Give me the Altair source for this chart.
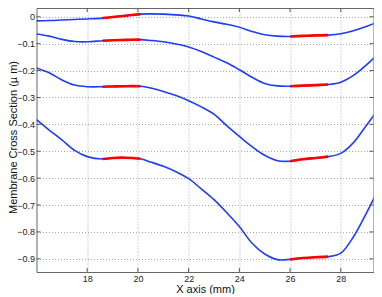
import altair as alt
import pandas as pd

# shared x positions (mm)
x_pts = [16.0, 16.5, 17.0, 17.5, 18.0, 18.6, 19.0, 19.5, 20.1, 20.5, 21.0, 21.5, 22.0, 22.5,
         23.0, 23.5, 24.0, 24.5, 25.0, 25.5, 26.0, 26.5, 27.0, 27.5, 28.0, 28.5, 29.0, 29.5]

curve1 = [-0.015, -0.014, -0.012, -0.010, -0.008, -0.005, -0.001, 0.004, 0.010, 0.011, 0.010, 0.007, 0.003, -0.008,
          -0.019, -0.028, -0.039, -0.055, -0.067, -0.072, -0.073, -0.071, -0.069, -0.068, -0.063, -0.052, -0.036, -0.018]
curve2 = [-0.064, -0.072, -0.084, -0.092, -0.093, -0.089, -0.087, -0.086, -0.085, -0.088, -0.093, -0.101, -0.112, -0.129,
          -0.150, -0.171, -0.197, -0.225, -0.248, -0.257, -0.258, -0.256, -0.254, -0.252, -0.243, -0.218, -0.180, -0.135]
curve3 = [-0.190, -0.208, -0.235, -0.254, -0.260, -0.260, -0.259, -0.258, -0.258, -0.265, -0.278, -0.293, -0.312, -0.335,
          -0.362, -0.405, -0.445, -0.483, -0.515, -0.535, -0.537, -0.530, -0.525, -0.520, -0.508, -0.468, -0.405, -0.342]
curve4 = [-0.382, -0.421, -0.458, -0.497, -0.520, -0.529, -0.525, -0.524, -0.528, -0.540, -0.556, -0.576, -0.602, -0.640,
          -0.680, -0.728, -0.780, -0.842, -0.882, -0.903, -0.902, -0.897, -0.894, -0.892, -0.879, -0.818, -0.732, -0.638]

curves = {"c1": curve1, "c2": curve2, "c3": curve3, "c4": curve4}
red_ranges = [(18.6, 20.1), (26.0, 27.5)]

x_ticks = [18, 20, 22, 24, 26, 28]
y_ticks = [0, -0.1, -0.2, -0.3, -0.4, -0.5, -0.6, -0.7, -0.8, -0.9]

rows = []
for name, ys in curves.items():
    for xv, yv in zip(x_pts, ys):
        rows.append({"x": xv, "y": yv, "curve": name})
df = pd.DataFrame(rows)

red_rows = []
for i, (a, b) in enumerate(red_ranges):
    sub = df[(df.x >= a - 1e-9) & (df.x <= b + 1e-9)].copy()
    sub["seg"] = sub["curve"] + "_" + str(i)
    red_rows.append(sub)
red_df = pd.concat(red_rows)

W, H = 337, 264
xdom = [16, 29.29]
ydom = [-0.949, 0.0327]

xs = alt.Scale(domain=xdom, nice=False, zero=False)
ys_ = alt.Scale(domain=ydom, nice=False, zero=False)

xaxis = alt.Axis(values=x_ticks, title="X axis (mm)", format="~g",
                 titleY=20, titleBaseline="alphabetic")
yaxis = alt.Axis(values=y_ticks, title="Membrane Cross Section (µ m)", format="~g",
                 labelOverlap=False, titleX=-20.5, titleY=129, titleBaseline="alphabetic")

X = alt.X("x:Q", scale=xs, axis=xaxis)
Y = alt.Y("y:Q", scale=ys_, axis=yaxis)

blue = alt.Chart(df).mark_line(color="#1f3cff", strokeWidth=1.6, interpolate="catmull-rom", clip=True).encode(
    x=X, y=Y, detail="curve:N",
)

red = alt.Chart(red_df).mark_line(color="#ff0000", strokeWidth=2.6, interpolate="catmull-rom", clip=True).encode(
    x=X, y=Y, detail="seg:N",
)

xt = pd.DataFrame({"x": x_ticks})
yt = pd.DataFrame({"y": y_ticks})
tick_col = "#555555"
xb = alt.Chart(xt).mark_rule(color=tick_col, strokeWidth=1).encode(
    x=X, y=alt.value(H - 4), y2=alt.value(H))
xtop = alt.Chart(xt).mark_rule(color=tick_col, strokeWidth=1).encode(
    x=X, y=alt.value(0), y2=alt.value(4))
yl = alt.Chart(yt).mark_rule(color=tick_col, strokeWidth=1).encode(
    y=Y, x=alt.value(0), x2=alt.value(4))
yr = alt.Chart(yt).mark_rule(color=tick_col, strokeWidth=1).encode(
    y=Y, x=alt.value(W - 4), x2=alt.value(W))

chart = alt.layer(blue, red, xb, xtop, yl, yr).properties(
    width=W, height=H,
    autosize=alt.AutoSizeParams(type="none"),
    padding={"left": 28.5, "top": 0, "right": 0.5, "bottom": 22},
).configure_view(
    stroke="#666666", strokeWidth=1
).configure_axis(
    domain=False, ticks=False,
    grid=True, gridColor="#a8a8a8", gridDash=[1, 2], gridWidth=1,
    labelFont="Liberation Sans", labelFontSize=9, labelColor="#222222", labelPadding=2,
    titleFont="Liberation Sans", titleFontSize=11, titleFontWeight="normal", titleColor="#111111",
)

chart.save("out.html", embed_options={"renderer": "svg", "actions": False})
